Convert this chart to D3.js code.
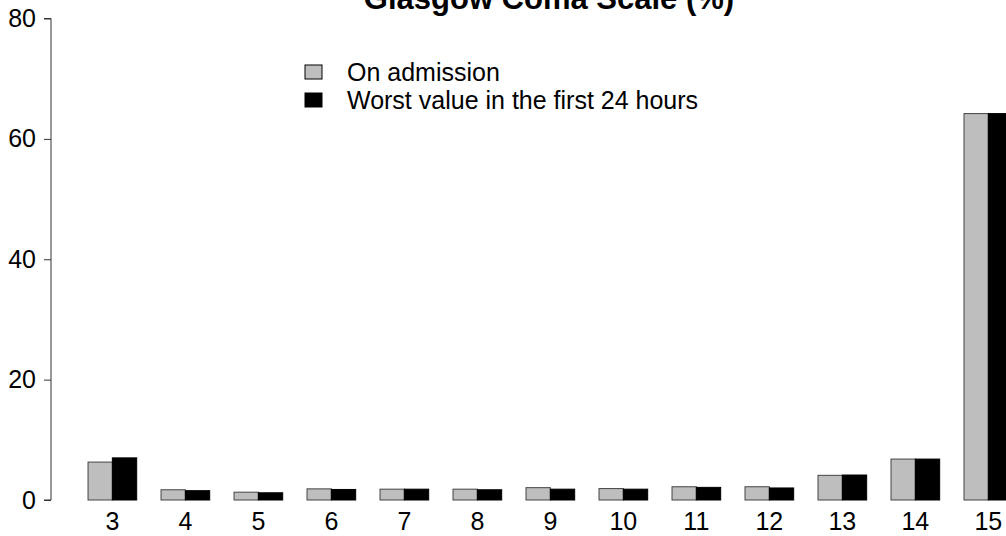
<!DOCTYPE html>
<html>
<head>
<meta charset="utf-8">
<script src="https://cdn.jsdelivr.net/npm/d3@7"></script>
<style>
  body { margin: 0; background: #fff; }
  text { font-family: "Liberation Sans", Arial, sans-serif; }
</style>
</head>
<body>
<div id="chart"></div>
<script>
// GCS categories and percentages for each series
var categories = ["3", "4", "5", "6", "7", "8", "9", "10", "11", "12", "13", "14", "15"];
var seriesNames = ["On admission", "Worst value in the first 24 hours"];
var onAdmission = [6.3, 1.7, 1.3, 1.85, 1.8, 1.8, 2.05, 1.9, 2.2, 2.2, 4.1, 6.8, 64.2];
var worst24h = [7.0, 1.55, 1.2, 1.75, 1.8, 1.7, 1.8, 1.8, 2.1, 2.0, 4.15, 6.8, 64.2];
var yTicks = [0, 20, 40, 60, 80];

var svgWidth = 1006;
var svgHeight = 536;

var svg = d3.select("#chart")
  .append("svg")
  .attr("width", svgWidth)
  .attr("height", svgHeight);

var colors = ["#bebebe", "#000000"];

// outer band per GCS score, inner band per series
var x0 = d3.scaleBand()
  .domain(categories)
  .range([63.7, 1037])
  .paddingInner(1 / 3)
  .paddingOuter(1 / 3);

var x1 = d3.scaleBand()
  .domain([0, 1])
  .range([0, x0.bandwidth()]);

var y = d3.scaleLinear()
  .domain([0, 80])
  .range([500, 18.5]);

var rows = categories.map(function(c, i) {
  return { cat: c, values: [onAdmission[i], worst24h[i]] };
});

// bars
var groups = svg.selectAll("g.grp")
  .data(rows)
  .enter()
  .append("g")
  .attr("class", "grp")
  .attr("transform", d => `translate(${x0(d.cat)},0)`);

groups.selectAll("rect")
  .data(d => d.values)
  .enter()
  .append("rect")
  .attr("x", (d, i) => x1(i))
  .attr("y", d => y(d))
  .attr("width", x1.bandwidth())
  .attr("height", d => y(0) - y(d))
  .attr("fill", (d, i) => colors[i])
  .attr("stroke", (d, i) => i == 0 ? "#444" : "#000")
  .attr("stroke-width", 1);

// category labels under each group, no axis line
svg.append("g")
  .selectAll("text")
  .data(categories)
  .enter()
  .append("text")
  .attr("x", d => x0(d) + x0.bandwidth() / 2)
  .attr("y", 530)
  .attr("text-anchor", "middle")
  .style("font-size", "25px")
  .text(d => d);

// y axis
var yAxis = d3.axisLeft(y).tickValues(yTicks).tickSize(7).tickPadding(8);
var yG = svg.append("g")
  .attr("transform", "translate(51,0)")
  .call(yAxis);
yG.select(".domain").attr("stroke", "#333").attr("d", `M-7,${y(80)}H0V${y(0)}H-7`);
yG.selectAll(".tick line").attr("stroke", "#333");
yG.selectAll(".tick text")
  .style("font-size", "25px")
  .style("font-family", "'Liberation Sans', Arial, sans-serif")
  .attr("fill", "#000");

// title (cut off at the top, as in the original)
svg.append("text")
  .attr("x", 549)
  .attr("y", 9)
  .attr("text-anchor", "middle")
  .style("font-size", "31px")
  .style("font-weight", "bold")
  .text("Glasgow Coma Scale (%)");

// legend
var legend = svg.append("g");
var legendRows = legend.selectAll("g")
  .data(seriesNames)
  .enter()
  .append("g")
  .attr("transform", (d, i) => `translate(305,${65 + i * 28})`);

legendRows.append("rect")
  .attr("width", 17)
  .attr("height", 14)
  .attr("fill", (d, i) => colors[i])
  .attr("stroke", "#000");

legendRows.append("text")
  .attr("x", 42)
  .attr("y", 16)
  .style("font-size", "25px")
  .text(d => d);
</script>
</body>
</html>
